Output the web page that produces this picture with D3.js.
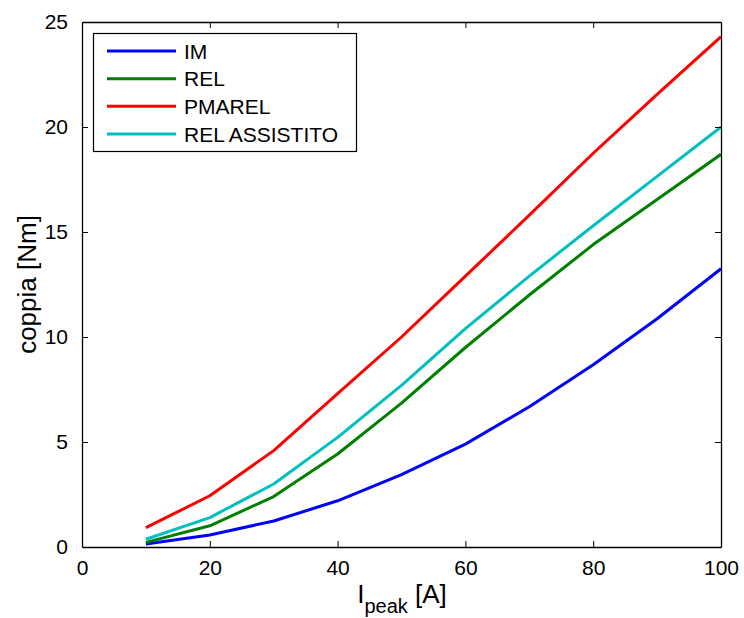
<!DOCTYPE html>
<html>
<head>
<meta charset="utf-8">
<script src="https://cdn.jsdelivr.net/npm/d3@7"></script>
<style>
  html, body { margin: 0; padding: 0; background: #fff; }
  svg { display: block; font-family: "Liberation Sans", Arial, Helvetica, sans-serif; }
</style>
</head>
<body>
<svg id="chart" width="744" height="618"></svg>
<script>
// Peak current samples [A]
const current = [10, 20, 30, 40, 50, 60, 70, 80, 90, 100];

// Torque [Nm] for each machine type
const torqueIM = [0.14, 0.57, 1.24, 2.2, 3.45, 4.9, 6.68, 8.68, 10.87, 13.25];
const torqueREL = [0.22, 1.01, 2.4, 4.43, 6.85, 9.5, 12.0, 14.4, 16.55, 18.7];
const torquePMAREL = [0.92, 2.44, 4.59, 7.3, 10.0, 12.9, 15.8, 18.75, 21.55, 24.3];
const torqueRELAss = [0.37, 1.4, 3.0, 5.22, 7.7, 10.4, 12.9, 15.3, 17.65, 20.0];

const seriesNames = ["IM", "REL", "PMAREL", "REL ASSISTITO"];
const seriesColors = ["#0000ff", "#008000", "#ff0000", "#00bfbf"];
const seriesValues = [torqueIM, torqueREL, torquePMAREL, torqueRELAss];

const xTicks = [0, 20, 40, 60, 80, 100];
const yTicks = [0, 5, 10, 15, 20, 25];

const svg = d3.select("#chart");
const plot = { left: 82, right: 721, top: 22, bottom: 547 };

const x = d3.scaleLinear().domain([0, 100]).range([plot.left, plot.right]);
const y = d3.scaleLinear().domain([0, 25]).range([plot.bottom, plot.top]);

// Curves
const line = d3.line().x((d, i) => x(current[i])).y(d => y(d));
const curves = svg.append("g").attr("clip-path", "url(#plotClip)");
svg.append("clipPath").attr("id", "plotClip")
  .append("rect").attr("x", plot.left).attr("y", plot.top)
  .attr("width", plot.right - plot.left).attr("height", plot.bottom - plot.top);
seriesValues.forEach((vals, k) => {
  curves.append("path")
    .datum(vals)
    .attr("d", line)
    .attr("fill", "none")
    .attr("stroke", seriesColors[k])
    .attr("stroke-width", 3)
    .attr("stroke-linejoin", "round");
});

// Axes with inward ticks, boxed frame
const tickLen = 6;
const fontTicks = 21;

const axB = svg.append("g").attr("transform", `translate(0,${plot.bottom})`)
  .call(d3.axisBottom(x).tickValues(xTicks).tickSize(-tickLen).tickPadding(13).tickSizeOuter(0));
const axT = svg.append("g").attr("transform", `translate(0,${plot.top})`)
  .call(d3.axisTop(x).tickValues(xTicks).tickSize(-tickLen).tickFormat("").tickSizeOuter(0));
const axL = svg.append("g").attr("transform", `translate(${plot.left},0)`)
  .call(d3.axisLeft(y).tickValues(yTicks).tickSize(-tickLen).tickPadding(14).tickSizeOuter(0));
const axR = svg.append("g").attr("transform", `translate(${plot.right},0)`)
  .call(d3.axisRight(y).tickValues(yTicks).tickSize(-tickLen).tickFormat("").tickSizeOuter(0));

[axB, axT, axL, axR].forEach(a => {
  a.select(".domain").attr("stroke", "#000").attr("stroke-width", 1.3);
  a.selectAll(".tick line").attr("stroke", "#000").attr("stroke-width", 1);
  a.selectAll(".tick text")
    .attr("fill", "#000")
    .style("font-size", fontTicks + "px")
    .style("font-family", "'Liberation Sans', Arial, sans-serif");
});
axB.selectAll(".tick text").attr("dy", "0.71em");
// hide tick marks at the frame corners
axB.selectAll(".tick line").filter(d => d === 0 || d === 100).remove();
axT.selectAll(".tick line").filter(d => d === 0 || d === 100).remove();
axL.selectAll(".tick line").filter(d => d === 0 || d === 25).remove();
axR.selectAll(".tick line").filter(d => d === 0 || d === 25).remove();

// Axis labels
const xl = svg.append("text")
  .attr("x", 402).attr("y", 603)
  .attr("text-anchor", "middle")
  .attr("fill", "#000")
  .style("font-size", "26px");
xl.append("tspan").text("I");
xl.append("tspan").attr("dy", 10).style("font-size", "20px").text("peak");
xl.append("tspan").attr("dy", -10).text(" [A]");

svg.append("text")
  .attr("transform", `translate(36,${(plot.top + plot.bottom) / 2}) rotate(-90)`)
  .attr("text-anchor", "middle")
  .attr("fill", "#000")
  .style("font-size", "26px")
  .text("coppia [Nm]");

// Legend
const legend = svg.append("g");
legend.append("rect")
  .attr("x", 93.5).attr("y", 33.5)
  .attr("width", 263).attr("height", 118)
  .attr("fill", "#fff").attr("stroke", "#000").attr("stroke-width", 1.2);
const legY = d3.scalePoint().domain(seriesNames).range([51, 134]);
seriesNames.forEach((name, k) => {
  legend.append("line")
    .attr("x1", 107).attr("x2", 176)
    .attr("y1", legY(name)).attr("y2", legY(name))
    .attr("stroke", seriesColors[k]).attr("stroke-width", 3);
  legend.append("text")
    .attr("x", 184).attr("y", legY(name))
    .attr("dy", "0.36em")
    .attr("fill", "#000")
    .style("font-size", "21px")
    .text(name);
});
</script>
</body>
</html>
